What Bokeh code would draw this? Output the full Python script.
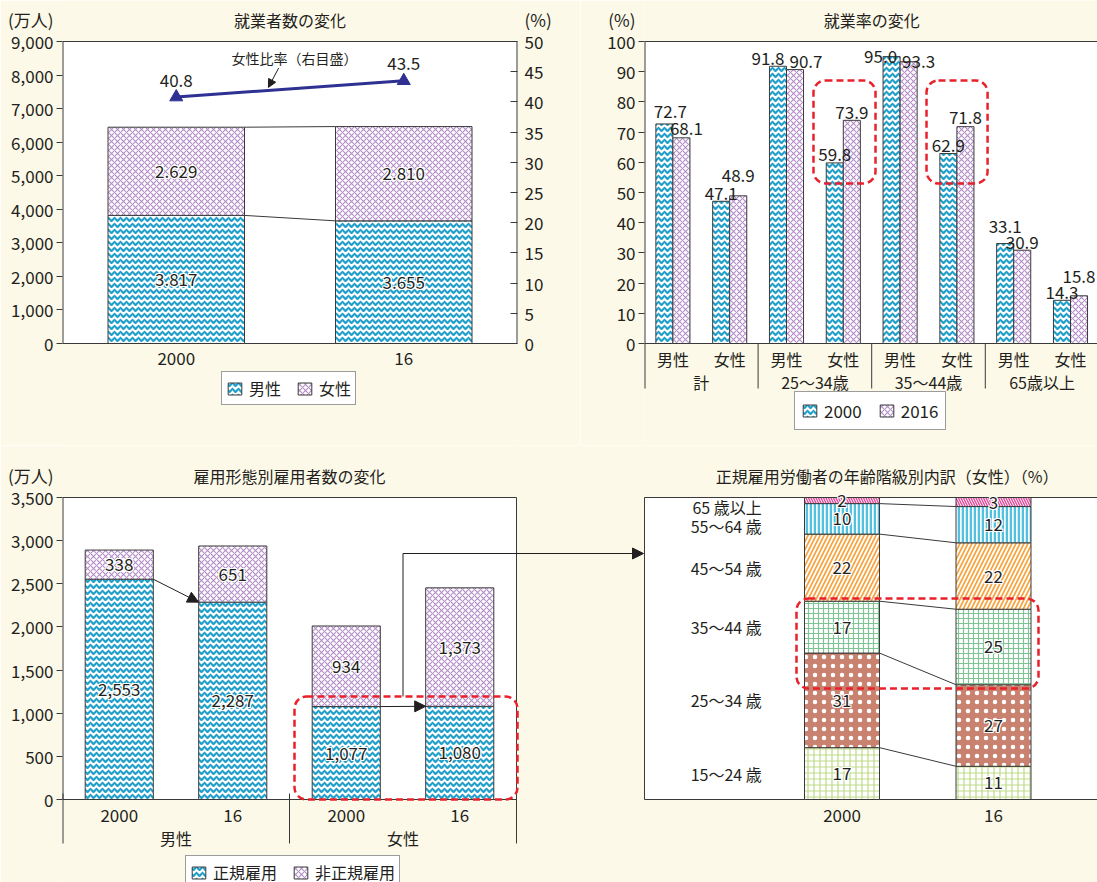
import numpy as np
from bokeh.plotting import figure
from bokeh.models import (Range1d, LinearAxis, FixedTicker, NumeralTickFormatter, Legend, LegendItem,
                          Arrow, NormalHead, BoxAnnotation, ColumnDataSource)
from bokeh.layouts import row, column
from bokeh.core.properties import value
from bokeh.embed import file_html
from bokeh.resources import INLINE

# ---------------- data ----------------
# 就業者数の変化 (万人)
p1_years = ["2000", "16"]
p1_male = [3817, 3655]
p1_female = [2629, 2810]
p1_female_ratio = [40.8, 43.5]          # 女性比率 (%), right axis

# 就業率の変化 (%)
p2_groups = ["計", "25～34歳", "35～44歳", "65歳以上"]
p2_sexes = ["男性", "女性"]
p2_rate_2000 = [72.7, 47.1, 91.8, 59.8, 95.0, 62.9, 33.1, 14.3]
p2_rate_2016 = [68.1, 48.9, 90.7, 73.9, 93.3, 71.8, 30.9, 15.8]

# 雇用形態別雇用者数の変化 (万人)
p3_sex = ["男性", "女性"]
p3_years = ["2000", "16", "2000", "16"]
p3_regular = [2553, 2287, 1077, 1080]
p3_nonregular = [338, 651, 934, 1373]

# 正規雇用労働者の年齢階級別内訳（女性）(%)
p4_years = ["2000", "16"]
p4_ages = ["15～24 歳", "25～34 歳", "35～44 歳", "45～54 歳", "55～64 歳", "65 歳以上"]
p4_share_2000 = [17, 31, 17, 22, 10, 2]
p4_share_2016 = [11, 27, 25, 22, 12, 3]

# ---------------- styles ----------------
BG = "#fdf9e8"
TXT = "#231f20"
AXC = "#3a3a3a"
CYAN = "#1f9fc9"
PURPLE = "#b48ec8"
NAVY = "#2e3192"
RED = "#e8212b"
FONT = "Noto Sans CJK JP"

MALE_HATCH = dict(fill_color="white", hatch_pattern="horizontal_wave", hatch_color=CYAN,
                  hatch_scale=6, hatch_weight=2.2)
FEMALE_HATCH = dict(fill_color="white", hatch_pattern="diagonal_cross", hatch_color=PURPLE,
                    hatch_scale=6, hatch_weight=1.1)
HALO = [(-1, 0), (1, 0), (0, -1), (0, 1), (-1, -1), (1, 1), (-1, 1), (1, -1)]
BOX_H = 302  # pixel height of each plot box

# page geometry (pixels)
TOP_H = 445          # top row height; its frames span the whole row
TOP_BOX_BOT = 343    # page y of the zero line, top row
BOT_H = 437
BOT_Y0 = 445         # page y where the bottom row starts
BOT_BOX_BOT = 799


def ty(py, top):     # page y -> data value, top row
    return (TOP_BOX_BOT - py) * top / BOX_H


def by(py, top):     # page y -> data value, bottom row
    return (BOT_BOX_BOT - py) * top / BOX_H


def make_fig(fw, fh, xr, yr, bl, br):
    p = figure(frame_width=fw, frame_height=fh, x_range=xr, y_range=yr, x_axis_type=None,
               y_axis_type=None, output_backend="svg", toolbar_location=None, title=None,
               min_border_left=bl, min_border_right=br, min_border_top=0, min_border_bottom=0)
    p.background_fill_color = BG
    p.border_fill_color = BG
    p.outline_line_color = None
    return p


def y_axis(p, side, ticks, unit_pos, unit_text, fmt=None, t_out=0, t_in=0, standoff=3,
           range_name="default"):
    ax = LinearAxis(y_range_name=range_name,
                    ticker=FixedTicker(ticks=list(ticks) + [unit_pos], minor_ticks=list(ticks)),
                    major_label_overrides={unit_pos: unit_text})
    if fmt is not None:
        ax.formatter = fmt
    ax.major_label_text_font = FONT
    ax.major_label_text_font_size = "17px"
    ax.major_label_text_color = TXT
    ax.major_label_standoff = standoff
    ax.axis_line_color = None
    ax.major_tick_line_color = None
    ax.major_tick_out = 0
    ax.major_tick_in = 0
    ax.minor_tick_line_color = AXC
    ax.minor_tick_out = t_out
    ax.minor_tick_in = t_in
    p.add_layout(ax, side)


def plot_box(p, l, r, b, t, edges, y_range_name="default"):
    """white plot area; edges: side -> line width (2 where it lies on the frame edge)"""
    p.quad(left=l, right=r, bottom=b, top=t, fill_color="white", line_color=None,
           y_range_name=y_range_name)
    segs = {"left": (l, b, l, t), "right": (r, b, r, t), "bottom": (l, b, r, b), "top": (l, t, r, t)}
    for side, w in edges.items():
        x0, y0, x1, y1 = segs[side]
        p.segment(x0=[x0], y0=[y0], x1=[x1], y1=[y1], line_color=AXC, line_width=w,
                  y_range_name=y_range_name)


def texts(p, xs, ys, labels, size="16px", align="center", y_range_name="default", **kw):
    p.text(x=list(xs), y=list(ys), text=list(labels), y_range_name=y_range_name,
           text_font=value(FONT), text_font_size=size, text_color=TXT, text_align=align,
           text_baseline="middle", **kw)


def halo_text(p, source, x, y, text, y_range_name="default"):
    base = dict(x=x, y=y, text=text, source=source, y_range_name=y_range_name,
                text_font=value(FONT), text_font_size="17px", text_align="center",
                text_baseline="middle")
    for dx, dy in HALO:
        p.text(x_offset=dx, y_offset=dy, text_color="white", **base)
    p.text(text_color=TXT, **base)


def add_legend(p, items, loc, size="16px", spacing=15, padding=4):
    p.add_layout(Legend(items=items, location=loc, orientation="horizontal",
                        border_line_color=AXC, border_line_width=1, background_fill_color="white",
                        background_fill_alpha=1, label_text_font=FONT, label_text_font_size=size,
                        label_text_color=TXT, glyph_width=17, glyph_height=15, label_standoff=6,
                        spacing=spacing, padding=padding, margin=0, label_height=15))


def red_box(p, l, r, b, t, y_range_name="default"):
    p.add_layout(BoxAnnotation(left=l, right=r, bottom=b, top=t, y_range_name=y_range_name,
                               fill_color=None, fill_alpha=0, line_color=RED, line_alpha=1,
                               line_width=2.5, line_dash="7 4", border_radius=12))


TITLE_PY = 19

# ============ panel 1 : 就業者数の変化 ============
Y1, Y1R = 9000, 50
x1 = [0.5, 1.5]
tot1 = [m + f for m, f in zip(p1_male, p1_female)]
p1 = make_fig(455, TOP_H, Range1d(0, 2), Range1d(ty(TOP_H, Y1), ty(0, Y1)), 62, 63)
p1.extra_y_ranges = {"pct": Range1d(ty(TOP_H, Y1R), ty(0, Y1R))}
y_axis(p1, "left", range(0, Y1 + 1, 1000), ty(TITLE_PY, Y1), "(万人)",
       fmt=NumeralTickFormatter(format="0,0"), t_out=6, standoff=3)
y_axis(p1, "right", range(0, Y1R + 1, 5), ty(TITLE_PY, Y1R), "(%)", t_in=7, standoff=7,
       range_name="pct")
plot_box(p1, 0, 2, 0, Y1, {"left": 2, "right": 2, "bottom": 1, "top": 1})
texts(p1, x1, [ty(358, Y1)] * 2, p1_years, size="17px")

src1 = ColumnDataSource(dict(x=x1, male=p1_male, total=tot1,
                             mmid=[m / 2 for m in p1_male],
                             fmid=[m + f / 2 for m, f in zip(p1_male, p1_female)],
                             mlab=[f"{v / 1000:.3f}" for v in p1_male],
                             flab=[f"{v / 1000:.3f}" for v in p1_female]))
r_m = p1.vbar(x="x", bottom=0, top="male", width=0.6, source=src1, line_color=AXC, **MALE_HATCH)
r_f = p1.vbar(x="x", bottom="male", top="total", width=0.6, source=src1, line_color=AXC, **FEMALE_HATCH)
p1.segment(x0=[x1[0] + 0.3] * 2, y0=[p1_male[0], tot1[0]], x1=[x1[1] - 0.3] * 2,
           y1=[p1_male[1], tot1[1]], line_color=AXC, line_width=1)
halo_text(p1, src1, "x", "mmid", "mlab")
halo_text(p1, src1, "x", "fmid", "flab")

p1.line(x=x1, y=p1_female_ratio, y_range_name="pct", line_color=NAVY, line_width=3)
p1.scatter(x=x1, y=p1_female_ratio, y_range_name="pct", marker="triangle", size=13,
           fill_color=NAVY, line_color=NAVY)
texts(p1, x1, p1_female_ratio, [f"{v:.1f}" for v in p1_female_ratio], size="17px",
      y_range_name="pct", y_offset=-17)
texts(p1, [1.02], [47.3], ["女性比率（右目盛）"], size="14px", y_range_name="pct")
p1.add_layout(Arrow(x_start=0.95, y_start=45.6, x_end=0.905, y_end=42.4, y_range_name="pct",
                    end=NormalHead(size=8, fill_color=TXT, line_color=TXT),
                    line_color=TXT, line_width=1))
texts(p1, [1], [ty(TITLE_PY, Y1)], ["就業者数の変化"])
add_legend(p1, [LegendItem(label="男性", renderers=[r_m]),
                LegendItem(label="女性", renderers=[r_f])], (159, TOP_H - 405))

# ============ panel 2 : 就業率の変化 ============
cats = [i + 0.5 for i in range(8)]
p2 = make_fig(453, TOP_H, Range1d(0, 453 / 56.8), Range1d(ty(TOP_H, 100), ty(0, 100)), 64, 0)
y_axis(p2, "left", range(0, 101, 10), ty(TITLE_PY, 100), "(%)", t_out=6, standoff=3)
plot_box(p2, 0, 8.5, 0, 100, {"left": 2, "bottom": 1, "top": 1})
texts(p2, cats, [ty(358, 100)] * 8, p2_sexes * 4)
texts(p2, [1, 3, 5, 7], [ty(381, 100)] * 4, p2_groups)
p2.segment(x0=[0, 2, 4, 6], y0=[0] * 4, x1=[0, 2, 4, 6], y1=[ty(388, 100)] * 4,
           line_color=AXC, line_width=[2, 1, 1, 1])

# label nudges (pixels) -- style only
nudge_2000 = [(6, -12), (0, -8), (-10, -8), (0, -8), (-11, 0), (0, -8), (0, -17), (0, -8)]
nudge_2016 = [(5, -9), (0, -20), (11, -8), (0, -8), (10, 0), (0, -9), (0, -8), (0, -19)]
src2a = ColumnDataSource(dict(x=[c - 0.15 for c in cats], y=p2_rate_2000,
                              t=[f"{v:.1f}" for v in p2_rate_2000],
                              dx=[n[0] for n in nudge_2000], dy=[n[1] for n in nudge_2000]))
src2b = ColumnDataSource(dict(x=[c + 0.15 for c in cats], y=p2_rate_2016,
                              t=[f"{v:.1f}" for v in p2_rate_2016],
                              dx=[n[0] for n in nudge_2016], dy=[n[1] for n in nudge_2016]))
r_a = p2.vbar(x="x", top="y", width=0.3, source=src2a, line_color=AXC, **MALE_HATCH)
r_b = p2.vbar(x="x", top="y", width=0.3, source=src2b, line_color=AXC, **FEMALE_HATCH)
lab2 = dict(text_font=value(FONT), text_font_size="17px", text_color=TXT,
            text_align="center", text_baseline="alphabetic")
p2.text(x="x", y="y", text="t", x_offset="dx", y_offset="dy", source=src2a, **lab2)
p2.text(x="x", y="y", text="t", x_offset="dx", y_offset="dy", source=src2b, **lab2)
red_box(p2, 2.975, 4.067, 53.0, 87.1)
red_box(p2, 4.965, 6.04, 53.0, 87.1)
texts(p2, [4], [ty(TITLE_PY, 100)], ["就業率の変化"])
add_legend(p2, [LegendItem(label="2000", renderers=[r_a]),
                LegendItem(label="2016", renderers=[r_b])], (150, TOP_H - 430),
           size="17px", spacing=16, padding=6)

# ============ bottom row: panels 3 and 4 share one frame ============
Y3 = 3500
UNIT3 = 113.5                     # pixels per bar slot of panel 3
x3 = [0.5, 1.5, 2.5, 3.5]
x4 = [(841.5 - 62) / UNIT3, (993 - 62) / UNIT3]     # bar slots of panel 4
p4_left = (644 - 62) / UNIT3
x_end = (1097 - 62) / UNIT3
BOT_BOTTOM = BOT_Y0 + BOT_H

pb = make_fig(1097 - 62, BOT_H, Range1d(0, x_end), Range1d(by(BOT_BOTTOM, Y3), by(BOT_Y0, Y3)), 62, 0)
pb.extra_y_ranges = {"p4": Range1d(by(BOT_BOTTOM, 100), by(BOT_Y0, 100))}
BTITLE_PY = 475
y_axis(pb, "left", range(0, Y3 + 1, 500), by(BTITLE_PY, Y3), "(万人)",
       fmt=NumeralTickFormatter(format="0,0"), t_out=6, standoff=3)
plot_box(pb, 0, 4, 0, Y3, {"left": 2, "right": 1, "bottom": 1, "top": 1})
plot_box(pb, p4_left, x_end + 1, 0, Y3, {"left": 1, "bottom": 1, "top": 1})
texts(pb, x3 + x4, [by(815, Y3)] * 6, p3_years + p4_years, size="17px")
texts(pb, [1, 3], [by(837, Y3)] * 2, p3_sex)
pb.segment(x0=[0, 2, 4], y0=[by(793, Y3)] * 3, x1=[0, 2, 4], y1=[by(843, Y3)] * 3,
           line_color=AXC, line_width=[2, 1, 1])

# ---- panel 3 bars
tot3 = [a + b for a, b in zip(p3_regular, p3_nonregular)]
src3 = ColumnDataSource(dict(x=x3, reg=p3_regular, tot=tot3,
                             rmid=[v / 2 for v in p3_regular],
                             nmid=[a + b / 2 for a, b in zip(p3_regular, p3_nonregular)],
                             rlab=[f"{v:,}" for v in p3_regular],
                             nlab=[f"{v:,}" for v in p3_nonregular]))
r_r = pb.vbar(x="x", bottom=0, top="reg", width=0.6, source=src3, line_color=AXC, **MALE_HATCH)
r_n = pb.vbar(x="x", bottom="reg", top="tot", width=0.6, source=src3, line_color=AXC, **FEMALE_HATCH)
halo_text(pb, src3, "x", "rmid", "rlab")
halo_text(pb, src3, "x", "nmid", "nlab")
for i in (0, 2):
    pb.add_layout(Arrow(x_start=x3[i] + 0.3, y_start=p3_regular[i], x_end=x3[i + 1] - 0.3,
                        y_end=p3_regular[i + 1],
                        end=NormalHead(size=11, fill_color=TXT, line_color=TXT),
                        line_color=TXT, line_width=1))
box_top = by(696, Y3)
link_y = by(553, Y3)
xmid = (x3[2] + x3[3]) / 2
pb.segment(x0=[xmid], y0=[box_top], x1=[xmid], y1=[link_y], line_color=TXT, line_width=1)
pb.add_layout(Arrow(x_start=xmid, y_start=link_y, x_end=(643 - 62) / UNIT3, y_end=link_y,
                    end=NormalHead(size=11, fill_color=TXT, line_color=TXT),
                    line_color=TXT, line_width=1))
red_box(pb, (294 - 62) / UNIT3, (517 - 62) / UNIT3, 0, box_top)
texts(pb, [2], [by(BTITLE_PY, Y3)], ["雇用形態別雇用者数の変化"])

# ---- panel 4 stacked shares
s00 = np.array(p4_share_2000, dtype=float)
s16 = np.array(p4_share_2016, dtype=float)
n00 = s00 / s00.sum() * 100
n16 = s16 / s16.sum() * 100
top00, top16 = np.cumsum(n00), np.cumsum(n16)
bot00, bot16 = top00 - n00, top16 - n16
w4 = 75 / UNIT3

age_styles = [
    dict(fill_color="white", hatch_pattern="+", hatch_color="#bedb88", hatch_scale=6, hatch_weight=1.2),
    dict(fill_color="#c9826f", hatch_pattern=".", hatch_color="white", hatch_scale=9, hatch_weight=1),
    dict(fill_color="white", hatch_pattern="+", hatch_color="#80c496", hatch_scale=5, hatch_weight=1.2),
    dict(fill_color="#f7a440", hatch_pattern="/", hatch_color="white", hatch_scale=8, hatch_weight=1.8),
    dict(fill_color="white", hatch_pattern="|", hatch_color="#52c1e0", hatch_scale=4, hatch_weight=2.6),
    dict(fill_color="white", hatch_pattern="\\", hatch_color="#e0529f", hatch_scale=5, hatch_weight=1.5),
]
for k in range(len(p4_ages)):
    pb.vbar(x=x4, bottom=[bot00[k], bot16[k]], top=[top00[k], top16[k]], width=w4,
            y_range_name="p4", line_color=AXC, line_width=1, **age_styles[k])
nb = len(p4_ages) - 1
pb.segment(x0=[x4[0] + w4 / 2] * nb, y0=list(top00[:nb]), x1=[x4[1] - w4 / 2] * nb,
           y1=list(top16[:nb]), y_range_name="p4", line_color=AXC, line_width=1)
src4 = ColumnDataSource(dict(x=[x4[0]] * 6 + [x4[1]] * 6,
                             y=list((top00 + bot00) / 2) + list((top16 + bot16) / 2),
                             t=[str(v) for v in p4_share_2000] + [str(v) for v in p4_share_2016]))
halo_text(pb, src4, "x", "y", "t", y_range_name="p4")
age_dy = [0, 0, 0, 0, 7, 6]   # nudge of the two top labels (px)
texts(pb, [x4[0] - 0.707] * 6, list((top00 + bot00) / 2), p4_ages, align="right",
      y_range_name="p4", y_offset=age_dy)
red_box(pb, (796 - 62) / UNIT3, (1038 - 62) / UNIT3, by(688, 100), by(598, 100), y_range_name="p4")
texts(pb, [(886.7 - 62) / UNIT3], [by(BTITLE_PY, Y3)], ["正規雇用労働者の年齢階級別内訳（女性）（%）"])

add_legend(pb, [LegendItem(label="正規雇用", renderers=[r_r]),
                LegendItem(label="非正規雇用", renderers=[r_n])], (123, -7))

layout = column(row(p1, p2), pb)
open("out.html", "w").write(file_html(layout, INLINE))
